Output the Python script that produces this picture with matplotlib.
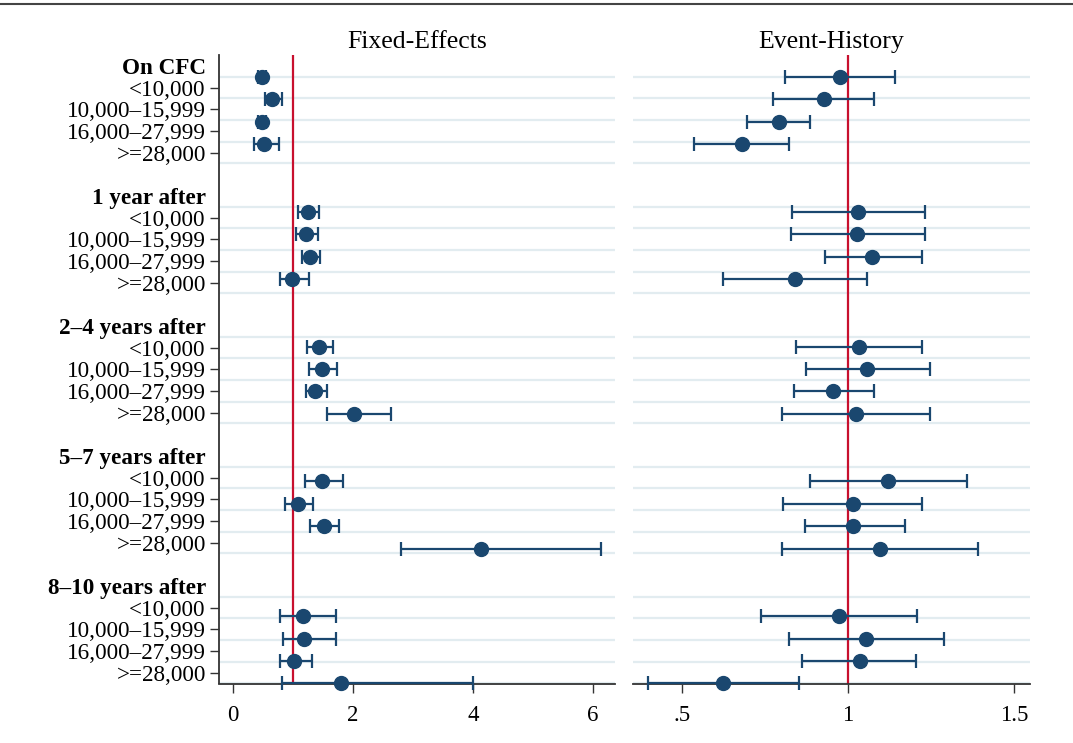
import matplotlib
matplotlib.use("Agg")
import matplotlib.pyplot as plt
from matplotlib.lines import Line2D

plt.rcParams['font.family'] = ['Liberation Serif', 'DejaVu Serif']

groups = ["On CFC", "1 year after", "2\u20134 years after", "5\u20137 years after", "8\u201310 years after"]
incomes = ["<10,000", "10,000\u201315,999", "16,000\u201327,999", ">=28,000"]

# Fixed-Effects: point, lower, upper (per group, per income)
fe_est = [[0.48, 0.65, 0.48, 0.52],
          [1.25, 1.22, 1.28, 0.98],
          [1.44, 1.48, 1.37, 2.02],
          [1.48, 1.08, 1.51, 4.14],
          [1.16, 1.19, 1.01, 1.80]]
fe_lo = [[0.42, 0.53, 0.42, 0.35],
         [1.08, 1.05, 1.15, 0.78],
         [1.24, 1.26, 1.21, 1.56],
         [1.20, 0.87, 1.29, 2.80],
         [0.79, 0.83, 0.79, 0.81]]
fe_hi = [[0.55, 0.81, 0.55, 0.76],
         [1.43, 1.42, 1.45, 1.27],
         [1.66, 1.73, 1.56, 2.63],
         [1.83, 1.34, 1.76, 6.13],
         [1.72, 1.72, 1.32, 4.00]]

# Event-History
eh_est = [[0.977, 0.927, 0.791, 0.681],
          [1.031, 1.028, 1.073, 0.841],
          [1.034, 1.058, 0.956, 1.025],
          [1.121, 1.016, 1.016, 1.095],
          [0.973, 1.054, 1.035, 0.625]]
eh_lo = [[0.811, 0.775, 0.696, 0.538],
         [0.832, 0.829, 0.932, 0.624],
         [0.844, 0.874, 0.838, 0.802],
         [0.886, 0.805, 0.871, 0.802],
         [0.739, 0.822, 0.861, 0.399]]
eh_hi = [[1.142, 1.079, 0.886, 0.822],
         [1.233, 1.233, 1.224, 1.058],
         [1.224, 1.248, 1.079, 1.248],
         [1.359, 1.224, 1.173, 1.390],
         [1.208, 1.289, 1.206, 0.852]]

fe_ticks = [0, 2, 4, 6]
fe_ticklabels = ["0", "2", "4", "6"]
eh_ticks = [0.5, 1.0, 1.5]
eh_ticklabels = [".5", "1", "1.5"]

NAVY = "#1a476f"
RED = "#c8102e"
GRID = "#e2ecf0"

W, H = 1073, 743
fig = plt.figure(figsize=(W / 100, H / 100), dpi=100)

ax_bottom = 1 - 683.5 / H
ax_h = (683.5 - 54.5) / H
axL = fig.add_axes([219 / W, ax_bottom, (614.5 - 219) / W, ax_h])
axR = fig.add_axes([633 / W, ax_bottom, (1030 - 633) / W, ax_h])

# row layout: each group = header row + 4 items + blank
n_groups = len(groups)
rows_items = []
header_rows = []
for g in range(n_groups):
    h = 6 * g
    header_rows.append(h)
    rows_items.append([h + 1 + i for i in range(len(incomes))])

# label scale (labels in original sit on a slightly compressed scale)
def lab(r):
    return 0.51 + 0.9645 * r

def draw(ax, est, lo, hi, xlim, ticks, ticklabels):
    ax.set_xlim(*xlim)
    ax.set_ylim(28, 0)
    # gridlines
    for g in range(n_groups):
        h = header_rows[g]
        for k in range(len(incomes) + 1):
            ax.axhline(lab(h + 0.5 + k), color=GRID, lw=1.6, zorder=0)
    ax.axvline(1, color=RED, lw=1.6, zorder=1)
    for g in range(n_groups):
        for i in range(len(incomes)):
            y = rows_items[g][i]
            e = est[g][i]
            ax.errorbar([e], [y], xerr=[[e - lo[g][i]], [hi[g][i] - e]],
                        fmt='o', color=NAVY, ms=10, lw=1.6, capsize=5,
                        capthick=1.6, zorder=3, clip_on=False)
    ax.set_xticks(ticks)
    ax.set_xticklabels(ticklabels, fontsize=16.5)
    ax.tick_params(axis='x', length=6.5, width=1.0, pad=9, color='#333333')
    for s in ['top', 'right']:
        ax.spines[s].set_visible(False)
    ax.spines['bottom'].set_color('#333333')
    ax.spines['bottom'].set_linewidth(1.3)

draw(axL, fe_est, fe_lo, fe_hi, (-0.233, 6.36), fe_ticks, fe_ticklabels)
draw(axR, eh_est, eh_lo, eh_hi, (0.353, 1.548), eh_ticks, eh_ticklabels)

# y labels on left panel
ypos, ylabels, is_header = [], [], []
for g in range(n_groups):
    ypos.append(lab(header_rows[g])); ylabels.append(groups[g]); is_header.append(True)
    for i in range(len(incomes)):
        ypos.append(lab(rows_items[g][i])); ylabels.append(incomes[i]); is_header.append(False)
axL.set_yticks(ypos)
axL.set_yticklabels(ylabels, fontsize=16.7)
axL.tick_params(axis='y', length=6.5, width=1.0, pad=3, color='#333333')
for t, hdr, tl in zip(axL.yaxis.get_major_ticks(), is_header, axL.get_yticklabels()):
    if hdr:
        t.tick1line.set_visible(False)
        tl.set_fontweight('bold')
axL.spines['left'].set_color('#333333')
axL.spines['left'].set_linewidth(1.3)

axR.spines['left'].set_visible(False)
axR.set_yticks([])

axL.set_title("Fixed-Effects", fontsize=18.5, pad=5)
axR.set_title("Event-History", fontsize=18.5, pad=5)

fig.add_artist(Line2D([0, 1], [1 - 4 / H, 1 - 4 / H], transform=fig.transFigure,
                      color='#444444', lw=1.5))

fig.savefig("out.png", dpi=100)
